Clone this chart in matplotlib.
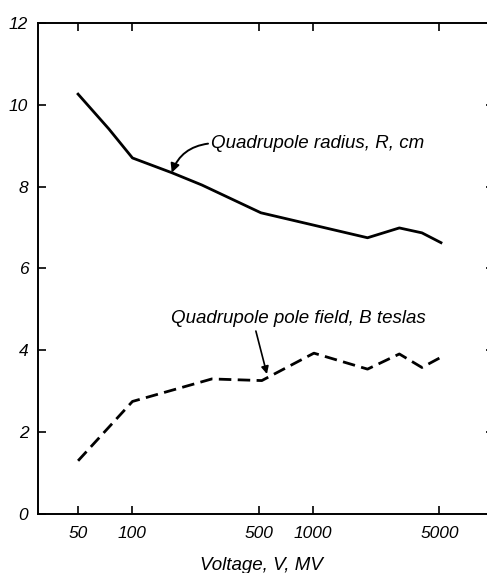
import matplotlib.pyplot as plt

# voltage (MV) and values
volt_r = [50, 74, 100, 165, 242, 514, 2000, 3000, 4000, 5100]
radius = [10.26, 9.41, 8.70, 8.34, 8.04, 7.36, 6.75, 6.99, 6.87, 6.63]

volt_b = [50, 100, 275, 520, 1010, 2000, 3000, 4000, 5100]
field = [1.30, 2.75, 3.30, 3.26, 3.93, 3.54, 3.91, 3.58, 3.83]

xticks = [50, 100, 500, 1000, 5000]
yticks = [0, 2, 4, 6, 8, 10, 12]

plt.rcParams['font.family'] = ['Liberation Sans', 'DejaVu Sans']
plt.rcParams['font.style'] = 'italic'

fig = plt.figure(figsize=(4.87, 5.73), dpi=100)
ax = fig.add_axes([0.078, 0.103, 0.936, 0.857])

ax.plot(volt_r, radius, color="black", lw=2.0)
ax.plot(volt_b, field, color="black", lw=2.0, dashes=(4.5, 2.3))

ax.set_xscale("log")
ax.set_xlim(30, 10000)
ax.set_ylim(0, 12)
ax.set_xticks(xticks)
ax.set_xticklabels([str(v) for v in xticks])
ax.minorticks_off()
ax.set_yticks(yticks)
ax.tick_params(direction="in", length=6, width=1.2, labelsize=12.5,
               top=True, right=True, pad=9)
ax.tick_params(axis="y", pad=7)
for s in ax.spines.values():
    s.set_linewidth(1.4)

# labels
ax.text(272, 9.05, "Quadrupole radius, R, cm", fontsize=13.5,
        va="center", ha="left")
ax.text(830, 4.77, "Quadrupole pole field, B teslas", fontsize=13.5,
        va="center", ha="center")

# arrows (tip, tail)
ax.annotate("", xy=(165, 8.34), xytext=(262, 9.05),
            arrowprops=dict(arrowstyle="-|>", color="black", lw=1.4,
                            connectionstyle="arc3,rad=0.3",
                            shrinkA=0, shrinkB=0, mutation_scale=13))
ax.annotate("", xy=(555, 3.42), xytext=(482, 4.47),
            arrowprops=dict(arrowstyle="-|>", color="black", lw=1.2,
                            shrinkA=0, shrinkB=0, mutation_scale=11))

ax.set_xlabel("Voltage, V, MV", fontsize=13.5)
ax.xaxis.set_label_coords(0.49, -0.088)

fig.savefig("out.png", dpi=100)
